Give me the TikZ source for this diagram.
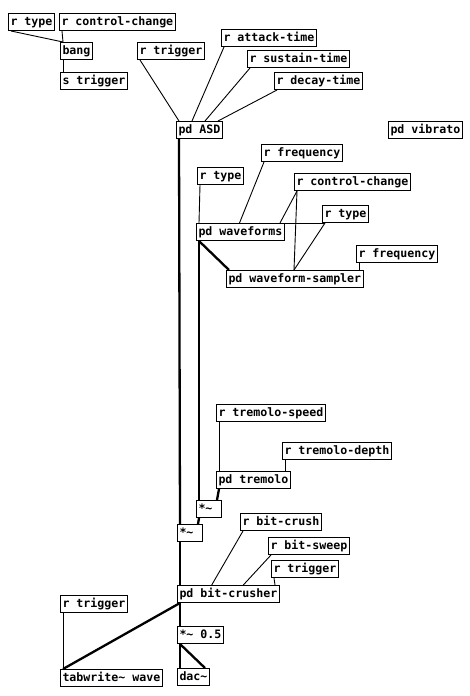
\documentclass[tikz,border=0pt]{standalone}
\usepackage{fontspec}
\newfontfamily\pdfont{DejaVu Sans Mono}
\usetikzlibrary{calc}
\tikzset{
  pdbox/.style={draw=black, line width=1pt, anchor=north west, inner xsep=2pt, inner ysep=0pt,
    minimum height=17pt, text height=8.6pt, text depth=2.4pt,
    font=\pdfont\bfseries\fontsize{11.6}{13}\selectfont},
  ctl/.style={draw=black, line width=0.9pt},
  sig/.style={draw=black, line width=2.3pt},
}
\newcommand\pdctl[4]{\draw[ctl] ($(#1.south west)+(#2,0)$) -- ($(#3.north west)+(#4,0)$);}
\newcommand\pdsig[4]{\draw[sig] ($(#1.south west)+(#2,0)$) -- ($(#3.north west)+(#4,0)$);}
\begin{document}
\begin{tikzpicture}[x=1pt,y=-1pt]
\useasboundingbox (0,0) rectangle (470,696);
\fill[white] (0,0) rectangle (470,696);
% objects
\node[pdbox] (rtype1) at (8,13) {r type};
\node[pdbox] (rcc1) at (59,13) {r control-change};
\node[pdbox] (bang) at (60,42) {bang};
\node[pdbox] (strig) at (60,72) {s trigger};
\node[pdbox] (rtrig1) at (137,42) {r trigger};
\node[pdbox] (ratt) at (221,29) {r attack-time};
\node[pdbox] (rsus) at (247,50) {r sustain-time};
\node[pdbox] (rdec) at (274,72) {r decay-time};
\node[pdbox] (asd) at (176,121) {pd ASD};
\node[pdbox] (vib) at (388,121) {pd vibrato};
\node[pdbox] (rfreq1) at (261,144) {r frequency};
\node[pdbox] (rtype2) at (197,167) {r type};
\node[pdbox] (rcc2) at (294,173) {r control-change};
\node[pdbox] (rtype3) at (322,205) {r type};
\node[pdbox] (wave) at (196,223) {pd waveforms};
\node[pdbox] (rfreq2) at (356,245) {r frequency};
\node[pdbox] (samp) at (226,270) {pd waveform-sampler};
\node[pdbox] (rtsp) at (216,404) {r tremolo-speed};
\node[pdbox] (rtdp) at (282,442) {r tremolo-depth};
\node[pdbox] (trem) at (216,471) {pd tremolo};
\node[pdbox] (mula) at (196,500) {*\textasciitilde\phantom{x}};
\node[pdbox] (mulb) at (177,524) {*\textasciitilde\phantom{x}};
\node[pdbox] (rbc) at (240,513) {r bit-crush};
\node[pdbox] (rbs) at (268,537) {r bit-sweep};
\node[pdbox] (rtrig3) at (271,560) {r trigger};
\node[pdbox] (bc) at (177,585) {pd bit-crusher};
\node[pdbox] (rtrig2) at (60,595) {r trigger};
\node[pdbox] (mulh) at (177,626) {*\textasciitilde{} 0.5};
\node[pdbox] (tab) at (60,669) {tabwrite\textasciitilde{} wave};
\node[pdbox] (dac) at (177,668) {dac\textasciitilde};
% control connections
\pdctl{rtype1}{3}{bang}{3}
\pdctl{rcc1}{3}{bang}{3}
\pdctl{bang}{3}{strig}{3}
\pdctl{rtrig1}{3}{asd}{3}
\pdctl{ratt}{3}{asd}{16}
\pdctl{rsus}{3}{asd}{29}
\pdctl{rdec}{3}{asd}{42}
\pdctl{rtype2}{3}{wave}{3}
\pdctl{rfreq1}{3}{wave}{43.5}
\pdctl{rcc2}{3}{wave}{84}
\pdctl{rtype3}{3}{wave}{84}
\pdctl{rcc2}{3}{samp}{68}
\pdctl{rtype3}{3}{samp}{68}
\pdctl{rfreq2}{3}{samp}{133}
\pdctl{rtsp}{3}{trem}{3}
\pdctl{rtdp}{3}{trem}{69}
\pdctl{rbc}{3}{bc}{34.7}
\pdctl{rbs}{3}{bc}{66.3}
\pdctl{rtrig3}{3}{bc}{98}
\pdctl{rtrig2}{3}{tab}{3}
% signal connections
\pdsig{asd}{3}{mulb}{3}
\pdsig{wave}{3}{samp}{3}
\pdsig{wave}{3}{mula}{3}
\pdsig{trem}{3}{mula}{21}
\pdsig{mula}{3}{mulb}{21}
\pdsig{mulb}{3}{bc}{3}
\pdsig{bc}{3}{mulh}{3}
\pdsig{bc}{3}{tab}{3}
\pdsig{mulh}{3}{dac}{3}
\pdsig{mulh}{3}{dac}{28}
\end{tikzpicture}
\end{document}
